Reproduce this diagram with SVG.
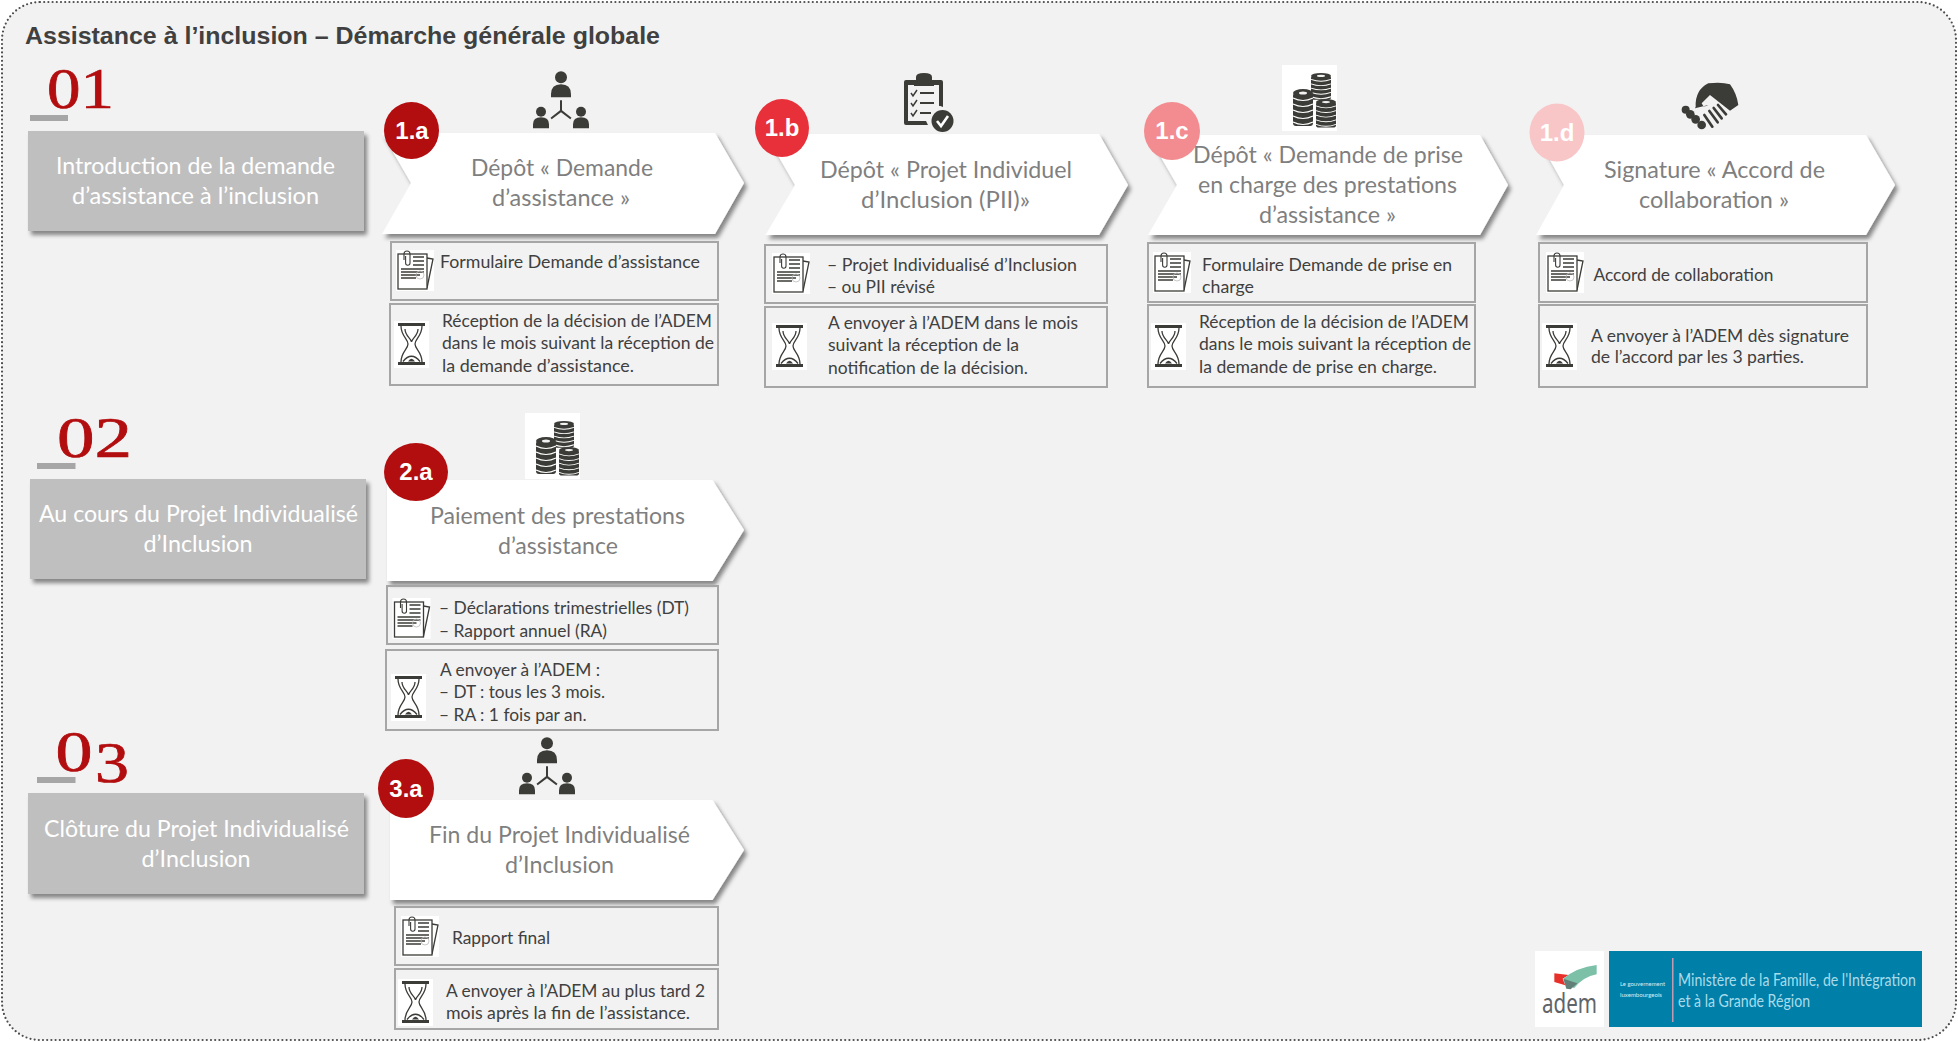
<svg xmlns="http://www.w3.org/2000/svg" width="1958" height="1042" viewBox="0 0 1958 1042">
<style>
text{font-family:"Lato","Liberation Sans",sans-serif}
.frame{fill:#f2f2f2;stroke:#4d4d4d;stroke-width:2.2;stroke-dasharray:0 4.2;stroke-linecap:round}
.title{font-family:"Liberation Sans",Arial,sans-serif;font-weight:700;font-size:23px;fill:#404040}
.num{font-family:"Liberation Serif","Times New Roman",serif;font-size:56px;fill:#b20d0f;stroke:#b20d0f;stroke-width:.7}
.bar{fill:#a6a6a6}
.phase{fill:#bfbfbf;filter:url(#sh)}
.phaset{font-size:22.5px;fill:#fff;text-anchor:start}
.chev{fill:#fff;filter:url(#sh)}
.chevt{font-size:22.5px;fill:#7f7f7f}
.badge{font-family:"Liberation Sans",Arial,sans-serif;font-weight:700;font-size:24px;fill:#fff;text-anchor:middle}
.box{fill:none;stroke:#a6a6a6;stroke-width:2}
.dt{font-size:16.5px;fill:#404040}
.ink{fill:#3b3b37}
.line{fill:none;stroke:#3b3b37;stroke-width:1.3}
</style>
<defs>
<filter id="sh" x="-5%" y="-5%" width="112%" height="120%">
<feDropShadow dx="3" dy="4" stdDeviation="2.2" flood-color="#000" flood-opacity=".45"/>
</filter>
<g id="doc">
<rect x="0" y="0" width="38" height="41" fill="#fff"/>
<path class="line" d="M31 8 L37 9 L31 38"/>
<rect class="line" x="2" y="4" width="29" height="35" style="fill:#fff"/>
<path class="line" d="M8 10V4a3 3 0 0 1 6 0V13a2.2 2.2 0 0 1-4.4 0V6" style="stroke-width:1.1"/>
<path class="line" d="M17 7H28M17 11H28M17 15H28M5 19H28M5 22H28M5 25H24M5 28H20" style="stroke-width:1.6"/>
<circle cx="24" cy="25" r="4" fill="none" stroke="#bbb" stroke-width=".8"/>
</g>
<g id="glass">
<rect x="0" y="0" width="35" height="47" fill="#fff"/>
<rect class="ink" x="4" y="2" width="27" height="3"/>
<rect class="ink" x="4" y="41" width="27" height="3"/>
<path class="line" d="M7 5C7 15 14 18 14 23C14 28 7 31 7 41M28 5C28 15 21 18 21 23C21 28 28 31 28 41M11 8C11 15 17 17 17.5 21C18 17 24 15 24 8M9 40.500Q17.500 30 26 40.500"/>
<path class="ink" d="M14 40.500Q17.500 35 21 40.500Z"/>
</g>
<g id="people" class="ink">
<circle cx="0" cy="0" r="6"/>
<path d="M-10 20V17Q-10 7 0 7Q10 7 10 17V20Z"/>
<path d="M-1 23H1V33L10.500 40.500L9.300 42L0 35L-9.300 42L-10.500 40.500L-1 33Z"/>
<circle cx="-20" cy="34.500" r="5"/>
<path d="M-28 51V47Q-28 40 -20 40Q-12 40 -12 47V51Z"/>
<circle cx="20" cy="34.500" r="5"/>
<path d="M12 51V47Q12 40 20 40Q28 40 28 47V51Z"/>
</g>
<g id="stack20">
<rect class="ink" x="0" y="4" width="20" height="33" rx="3"/>
<ellipse class="ink" cx="10" cy="4" rx="10" ry="4"/>
<ellipse cx="10" cy="4" rx="4" ry="1.500" fill="#f2f2f2"/>
<path d="M0 9Q10 14 20 9M0 15Q10 20 20 15M0 21Q10 26 20 21M0 27Q10 32 20 27M0 33Q10 38 20 33" fill="none" stroke="#fff" stroke-width="1.200"/>
</g>
<g id="coins">
<rect x="0" y="0" width="55" height="66" fill="#fff"/>
<g transform="translate(29,8)"><use href="#stack20" transform="scale(1,.72)"/></g>
<use href="#stack20" transform="translate(11,24)"/>
<g transform="translate(34,34)"><use href="#stack20" transform="scale(1,.77)"/></g>
</g>
</defs>
<rect class="frame" x="2" y="2" width="1954" height="1038" rx="38" ry="38"/>
<text class="title" x="25" y="44" textLength="635" lengthAdjust="spacingAndGlyphs">Assistance à l’inclusion – Démarche générale globale</text>

<g id="phase-01">
<text class="num" x="47" y="108" textLength="67" lengthAdjust="spacingAndGlyphs">01</text>
<rect class="bar" x="30" y="115" width="38" height="6"/>
<rect class="phase" x="28" y="131" width="336" height="100"/>
<text class="phaset" x="56" y="174" textLength="279" lengthAdjust="spacingAndGlyphs">Introduction de la demande</text>
<text class="phaset" x="72" y="204" textLength="247" lengthAdjust="spacingAndGlyphs">d’assistance à l’inclusion</text>
</g>
<g id="phase-02">
<text class="num" x="57" y="457" textLength="75" lengthAdjust="spacingAndGlyphs">02</text>
<rect class="bar" x="37" y="463" width="38.500" height="6"/>
<rect class="phase" x="30" y="479" width="336" height="100"/>
<text class="phaset" x="39" y="522" textLength="319" lengthAdjust="spacingAndGlyphs">Au cours du Projet Individualisé</text>
<text class="phaset" x="143.500" y="552" textLength="109" lengthAdjust="spacingAndGlyphs">d’Inclusion</text>
</g>
<g id="phase-03">
<text class="num" x="55.500" y="771" textLength="37" lengthAdjust="spacingAndGlyphs">0</text>
<text class="num" x="95" y="782" textLength="34" lengthAdjust="spacingAndGlyphs">3</text>
<rect class="bar" x="37" y="777" width="38.500" height="6"/>
<rect class="phase" x="28" y="793" width="336" height="101"/>
<text class="phaset" x="44" y="837" textLength="305" lengthAdjust="spacingAndGlyphs">Clôture du Projet Individualisé</text>
<text class="phaset" x="141.500" y="867" textLength="109" lengthAdjust="spacingAndGlyphs">d’Inclusion</text>
</g>

<g id="step-1a">
<use href="#people" transform="translate(561,77.300)"/>
<polygon class="chev" points="382,133 715,133 744,183 715,234 382,234 411,183"/>
<ellipse cx="411.500" cy="130.500" rx="27.500" ry="28.500" fill="#b20d0f"/>
<text class="badge" x="412" y="139">1.a</text>
<text class="chevt" x="471" y="176" textLength="182" lengthAdjust="spacingAndGlyphs">Dépôt « Demande</text>
<text class="chevt" x="492" y="206" textLength="138" lengthAdjust="spacingAndGlyphs">d’assistance »</text>
<rect class="box" x="391" y="242" width="327" height="58"/>
<use href="#doc" transform="translate(396,250)"/>
<text class="dt" x="440" y="268" textLength="260" lengthAdjust="spacingAndGlyphs">Formulaire Demande d’assistance</text>
<rect class="box" x="390" y="304" width="328" height="81"/>
<use href="#glass" transform="translate(394,321)"/>
<text class="dt" x="442" y="327" textLength="270" lengthAdjust="spacingAndGlyphs">Réception de la décision de l’ADEM</text>
<text class="dt" x="442" y="349" textLength="272" lengthAdjust="spacingAndGlyphs">dans le mois suivant la réception de</text>
<text class="dt" x="442" y="372" textLength="192" lengthAdjust="spacingAndGlyphs">la demande d’assistance.</text>
</g>

<g id="step-1b">
<path class="ink" d="M906 80H916V77Q916 73 924 73Q932 73 932 77V80H941Q943 80 943 82V107A12 12 0 0 0 928 125H906Q904 125 904 123V82Q904 80 906 80Z"/>
<rect x="908" y="85" width="31" height="36" fill="#f2f2f2"/>
<path class="ink" d="M914 81H934V86H914Z"/>
<path d="M911 93L913 96L917 90M911 103L913 106L917 100M911 113L913 116L917 110" fill="none" stroke="#3b3b37" stroke-width="1.500"/>
<path d="M920 93H934M920 103H934M920 113H931" fill="none" stroke="#3b3b37" stroke-width="2.200"/>
<circle class="ink" cx="942.500" cy="121" r="11"/>
<path d="M937 121L941 126L948 116" fill="none" stroke="#fff" stroke-width="2.600"/>
<polygon class="chev" points="765.500,134 1099,134 1128,185 1099,235 765.500,235 795,185"/>
<ellipse cx="782" cy="128" rx="27" ry="29" fill="#e8303a"/>
<text class="badge" x="782" y="136">1.b</text>
<text class="chevt" x="820" y="178" textLength="252" lengthAdjust="spacingAndGlyphs">Dépôt « Projet Individuel</text>
<text class="chevt" x="861" y="208" textLength="169" lengthAdjust="spacingAndGlyphs">d’Inclusion (PII)»</text>
<rect class="box" x="765" y="245" width="342" height="58"/>
<use href="#doc" transform="translate(772,253)"/>
<text class="dt" x="827" y="271" textLength="250" lengthAdjust="spacingAndGlyphs">– Projet Individualisé d’Inclusion</text>
<text class="dt" x="827" y="293" textLength="108" lengthAdjust="spacingAndGlyphs">– ou PII révisé</text>
<rect class="box" x="765" y="307" width="342" height="80"/>
<use href="#glass" transform="translate(772,323)"/>
<text class="dt" x="828" y="329" textLength="250" lengthAdjust="spacingAndGlyphs">A envoyer à l’ADEM dans le mois</text>
<text class="dt" x="828" y="351" textLength="191" lengthAdjust="spacingAndGlyphs">suivant la réception de la</text>
<text class="dt" x="828" y="374" textLength="200" lengthAdjust="spacingAndGlyphs">notification de la décision.</text>
</g>

<g id="step-1c">
<use href="#coins" transform="translate(1282,65)"/>
<polygon class="chev" points="1148,135 1480,135 1508,185 1480,235 1148,235 1177,185"/>
<ellipse cx="1172" cy="131" rx="28" ry="29" fill="#f28c90"/>
<text class="badge" x="1172" y="139">1.c</text>
<text class="chevt" x="1193" y="163" textLength="270" lengthAdjust="spacingAndGlyphs">Dépôt « Demande de prise</text>
<text class="chevt" x="1198" y="193" textLength="259" lengthAdjust="spacingAndGlyphs">en charge des prestations</text>
<text class="chevt" x="1259" y="223" textLength="137" lengthAdjust="spacingAndGlyphs">d’assistance »</text>
<rect class="box" x="1148" y="243" width="327" height="59"/>
<use href="#doc" transform="translate(1153,252)"/>
<text class="dt" x="1202" y="271" textLength="250" lengthAdjust="spacingAndGlyphs">Formulaire Demande de prise en</text>
<text class="dt" x="1202" y="293" textLength="52" lengthAdjust="spacingAndGlyphs">charge</text>
<rect class="box" x="1148" y="305" width="327" height="82"/>
<use href="#glass" transform="translate(1151,323)"/>
<text class="dt" x="1199" y="328" textLength="270" lengthAdjust="spacingAndGlyphs">Réception de la décision de l’ADEM</text>
<text class="dt" x="1199" y="350" textLength="272" lengthAdjust="spacingAndGlyphs">dans le mois suivant la réception de</text>
<text class="dt" x="1199" y="373" textLength="238" lengthAdjust="spacingAndGlyphs">la demande de prise en charge.</text>
</g>

<g id="step-1d">
<g transform="translate(1675,75) scale(.33333)">
<path class="ink" d="M62 95Q60 45 100 25Q140 20 165 28Q185 55 190 90L165 107L105 60L80 85Q85 100 100 90L60 100Z"/>
<circle class="ink" cx="32" cy="104" r="12"/>
<circle class="ink" cx="46" cy="118" r="13"/>
<circle class="ink" cx="62" cy="133" r="13"/>
<circle class="ink" cx="80" cy="150" r="13"/>
<path d="M88 120L112 155M103 108L128 142M116 99L140 130M129 90L153 118" fill="none" stroke="#3b3b37" stroke-width="8" stroke-linecap="round"/>
</g>
<polygon class="chev" points="1536,135 1866,135 1895,185 1866,235 1536,235 1564,185"/>
<ellipse cx="1557" cy="132.500" rx="27.500" ry="29" fill="#f9c6c8"/>
<text class="badge" x="1557" y="141">1.d</text>
<text class="chevt" x="1604" y="178" textLength="221" lengthAdjust="spacingAndGlyphs">Signature « Accord de</text>
<text class="chevt" x="1639" y="208" textLength="150" lengthAdjust="spacingAndGlyphs">collaboration »</text>
<rect class="box" x="1539" y="243" width="328" height="59"/>
<use href="#doc" transform="translate(1546,252)"/>
<text class="dt" x="1593.500" y="281" textLength="180" lengthAdjust="spacingAndGlyphs">Accord de collaboration</text>
<rect class="box" x="1539" y="305" width="328" height="82"/>
<use href="#glass" transform="translate(1542,323)"/>
<text class="dt" x="1591" y="342" textLength="258" lengthAdjust="spacingAndGlyphs">A envoyer à l’ADEM dès signature</text>
<text class="dt" x="1591" y="363" textLength="213" lengthAdjust="spacingAndGlyphs">de l’accord par les 3 parties.</text>
</g>

<g id="step-2a">
<use href="#coins" transform="translate(525,413)"/>
<polygon class="chev" points="387,480 712.500,480 744,530 712.500,581 387,581"/>
<ellipse cx="416" cy="472" rx="32" ry="29" fill="#b20d0f"/>
<text class="badge" x="416" y="480">2.a</text>
<text class="chevt" x="430" y="524" textLength="255" lengthAdjust="spacingAndGlyphs">Paiement des prestations</text>
<text class="chevt" x="498" y="554" textLength="120" lengthAdjust="spacingAndGlyphs">d’assistance</text>
<rect class="box" x="387" y="586" width="331" height="58"/>
<use href="#doc" transform="translate(392.500,598)"/>
<text class="dt" x="439" y="614" textLength="250" lengthAdjust="spacingAndGlyphs">– Déclarations trimestrielles (DT)</text>
<text class="dt" x="439" y="637" textLength="168" lengthAdjust="spacingAndGlyphs">– Rapport annuel (RA)</text>
<rect class="box" x="386" y="650" width="332" height="80"/>
<use href="#glass" transform="translate(391,674)"/>
<text class="dt" x="440" y="676" textLength="160" lengthAdjust="spacingAndGlyphs">A envoyer à l’ADEM :</text>
<text class="dt" x="439" y="698" textLength="166" lengthAdjust="spacingAndGlyphs">– DT : tous les 3 mois.</text>
<text class="dt" x="439" y="721" textLength="147.500" lengthAdjust="spacingAndGlyphs">– RA : 1 fois par an.</text>
</g>

<g id="step-3a">
<use href="#people" transform="translate(547,743.300)"/>
<polygon class="chev" points="390,800 712.500,800 744,850 712.500,900 390,900"/>
<ellipse cx="406" cy="788.500" rx="28" ry="29.500" fill="#b20d0f"/>
<text class="badge" x="406" y="797">3.a</text>
<text class="chevt" x="429" y="843" textLength="261" lengthAdjust="spacingAndGlyphs">Fin du Projet Individualisé</text>
<text class="chevt" x="505" y="873" textLength="109" lengthAdjust="spacingAndGlyphs">d’Inclusion</text>
<rect class="box" x="395" y="907" width="323" height="58"/>
<use href="#doc" transform="translate(401,916)"/>
<text class="dt" x="452" y="944" textLength="98" lengthAdjust="spacingAndGlyphs">Rapport final</text>
<rect class="box" x="395" y="969" width="323" height="60"/>
<use href="#glass" transform="translate(398,979)"/>
<text class="dt" x="446" y="997" textLength="259" lengthAdjust="spacingAndGlyphs">A envoyer à l’ADEM au plus tard 2</text>
<text class="dt" x="446" y="1019" textLength="244" lengthAdjust="spacingAndGlyphs">mois après la fin de l’assistance.</text>
</g>

<g id="logos">
<rect x="1535" y="951" width="69" height="76" fill="#fff"/>
<g transform="translate(1500,930) scale(.33333)">
<path d="M163 130L206 135L188 146L196 166L163 156Z" fill="#e8302a"/>
<path d="M190 146Q230 112 290 105V133Q250 140 222 175Z" fill="#7cc0a8"/>
<path d="M190 146L232 160L212 178L199 176Z" fill="#627f78"/>
</g>
<text x="1569.500" y="1013" text-anchor="middle" font-size="27" style="font-family:'Noto Sans','Liberation Sans',sans-serif" fill="#5f6468" textLength="55" lengthAdjust="spacingAndGlyphs">adem</text>
<rect x="1609" y="951" width="313" height="76" fill="#007fa9"/>
<rect x="1672" y="958" width="1.500" height="64" fill="#c39bb0"/>
<text x="1620" y="986" font-size="6.500" fill="#d5eef5" textLength="45" lengthAdjust="spacingAndGlyphs">Le gouvernement</text>
<text x="1620" y="997" font-size="6.500" fill="#d5eef5" textLength="42" lengthAdjust="spacingAndGlyphs">luxembourgeois</text>
<text x="1678" y="986" font-size="16.500" fill="#a8dceb" textLength="238" lengthAdjust="spacingAndGlyphs">Ministère de la Famille, de l'Intégration</text>
<text x="1678" y="1007" font-size="16.500" fill="#a8dceb" textLength="132" lengthAdjust="spacingAndGlyphs">et à la Grande Région</text>
</g>
</svg>
